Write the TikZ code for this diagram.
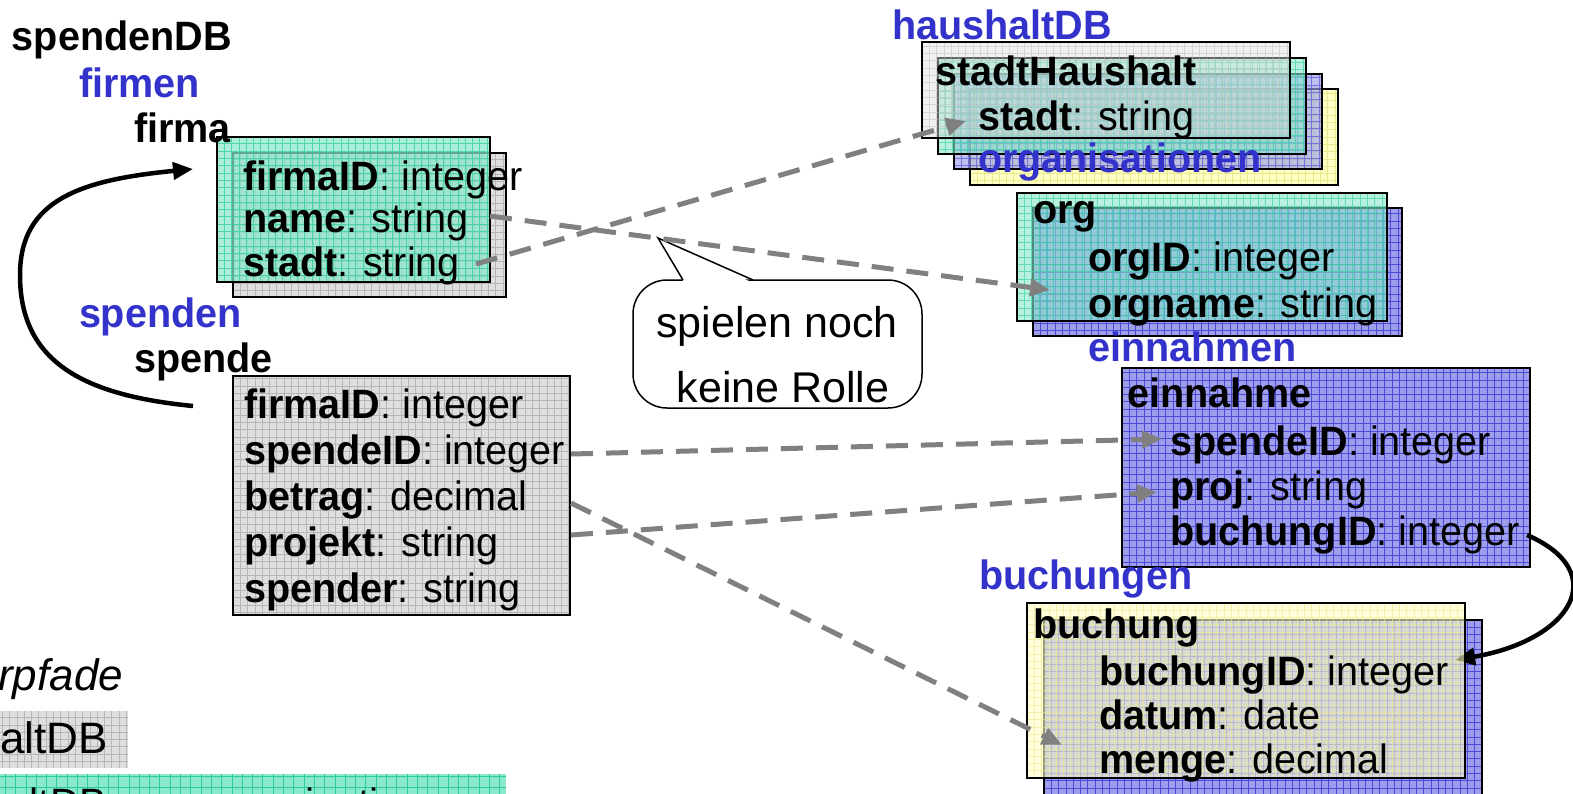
\documentclass[tikz,border=0pt]{standalone}
\usepackage{fontspec}
\setmainfont{Liberation Sans}[FakeStretch=0.965]
\newfontfamily\callfont{Liberation Sans}
\usetikzlibrary{arrows.meta,fit}
\definecolor{gfill}{RGB}{138,232,204}
\definecolor{ggrid}{RGB}{40,205,155}
\definecolor{sfill}{RGB}{222,222,222}
\definecolor{sgrid}{RGB}{182,182,182}
\definecolor{bfill}{RGB}{158,158,236}
\definecolor{bgrid}{RGB}{75,75,215}
\definecolor{yfill}{RGB}{255,255,196}
\definecolor{ygrid}{RGB}{232,232,140}
\definecolor{hdblue}{RGB}{51,51,204}
\definecolor{dgrey}{RGB}{128,128,128}
\newcommand\fieldtxt[2]{\textbf{#1}: #2}
\tikzset{
  tblbox/.style n args={3}{fill=#1fill, fill opacity=#2, draw=black, draw opacity=1,
    line width=1.5pt, inner sep=0pt, outer sep=0pt,
    path picture={\draw[#1grid, line width=0.7pt, draw opacity=#2]
      (path picture bounding box.south west) grid[step=#3]
      (path picture bounding box.north east);}},
  lgbox/.style n args={2}{fill=#1fill, draw=none, inner sep=0pt, outer sep=0pt,
    path picture={\draw[#1grid, line width=0.7pt]
      (path picture bounding box.south west) grid[step=#2]
      (path picture bounding box.north east);}},
  hd/.style={font=\fontsize{41}{46}\selectfont\bfseries, anchor=base west, inner sep=0pt, outer sep=0pt},
  hdb/.style={hd, text=hdblue},
  fl/.style={font=\fontsize{41}{46}\selectfont, anchor=base west, inner sep=0pt, outer sep=0pt},
  lgtxt/.style={font=\callfont\fontsize{44}{50}\selectfont, inner sep=0pt, outer sep=0pt},
  calltxt/.style={font=\callfont\fontsize{43}{50}\selectfont, anchor=base, inner sep=0pt},
  dsh/.style={draw=dgrey, line width=5pt, dash pattern=on 22pt off 13pt,
    -{Triangle[length=20pt,width=17pt,fill=dgrey]}},
  blk/.style={draw=black, line width=4.5pt, -{Triangle[length=20pt,width=17pt]}},
}
\begin{document}
\begin{tikzpicture}[x=1pt,y=-1pt]
\useasboundingbox (0,0) rectangle (1573,793);
\clip (0,0) rectangle (1573,793);
\fill[white] (0,0) rectangle (1573,793);

% legend (cut off at the picture's edges)
\node[lgbox={s}{7.3pt}, fit={(-5,711) (128,768)}] (lgGrey) {};
\node[lgbox={g}{10.3pt}, fit={(-5,774) (506,800)}] (lgGreen) {};
\node[lgtxt, font=\callfont\fontsize{44}{50}\selectfont\itshape, anchor=base east] (lgTitle) at (123,690) {rpfade};
\node[lgtxt, anchor=base east] (lgA) at (108,753) {altDB};
\node[lgtxt, font=\callfont\fontsize{41}{46}\selectfont, anchor=base east] (lgB) at (107,817) {altDB};
\node[lgtxt, font=\callfont\fontsize{41}{46}\selectfont, anchor=base west] (lgC) at (201,817) {organisationen};

% firma boxes
\node[tblbox={s}{1}{7.3pt}, fit={(233,153) (506,297)}] (firmaBack) {};
\node[tblbox={g}{0.72}{7.3pt}, fit={(217,137) (490,282)}] (firmaBox) {};
% spende box
\node[tblbox={s}{1}{7.3pt}, fit={(233,376) (570,615)}] (spendeBox) {};

% haushalt stack
\node[tblbox={y}{1}{7.3pt}, fit={(970,89) (1338,185)}] (hhY) {};
\node[tblbox={b}{0.65}{7.3pt}, fit={(954,74) (1322,169)}] (hhB) {};
\node[tblbox={g}{0.6}{7.3pt}, fit={(938,58) (1306,154)}] (hhG) {};
\node[tblbox={s}{0.45}{7.3pt}, fit={(922,42) (1290,138)}] (hhS) {};

% org boxes
\node[tblbox={b}{1}{7.3pt}, fit={(1033,208) (1402,336)}] (orgBack) {};
\node[tblbox={g}{0.6}{7.3pt}, fit={(1017,193) (1387,321)}] (orgBox) {};

% einnahme box
\node[tblbox={b}{1}{7.3pt}, fit={(1122,368) (1530,567)}] (einBox) {};

% buchung back box
\node[tblbox={b}{1}{7.3pt}, fit={(1044,620) (1482,810)}] (buchBack) {};

% right black connector (under the yellow buchung box)
\coordinate (buchIdOut) at (1527,535);
\coordinate (buchIdIn) at (1455,660);
\draw[blk] (buchIdOut) .. controls (1612,572) and (1572,640) .. (buchIdIn);

% buchung front box
\node[tblbox={y}{0.6}{7.3pt}, fit={(1027,603) (1465,778)}] (buchBox) {};

% callout
\node[draw=black, line width=1.5pt, fill=white, rounded corners=34pt,
      minimum width=289pt, minimum height=128pt, inner sep=0pt] (callout) at (777.5,344) {};
\coordinate (calloutTip) at (658,238);
\fill[white] (684,282.5) -- (calloutTip) -- (752,282.5) -- cycle;
\draw[line width=1.5pt, line join=miter] (683,280) -- (calloutTip) -- (753,280);
\node[calltxt] (call1) at (777,337) {spielen noch};
\node[calltxt] (call2) at (783,402) {keine Rolle};

% left texts
\node[hd] (spendenDB) at (12,50) {spendenDB};
\node[hdb] (firmen) at (79,97) {firmen};
\node[hd] (firma) at (134,142) {firma};
\node[fl] (fFirmaID) at (243,190) {\fieldtxt{firmaID}{integer}};
\node[fl] (fName) at (243,232) {\fieldtxt{name}{string}};
\node[fl] (fStadt) at (243,276) {\fieldtxt{stadt}{string}};
\node[hdb] (spenden) at (79,327) {spenden};
\node[hd] (spende) at (134,372) {spende};
\node[fl] (sFirmaID) at (244,418) {\fieldtxt{firmaID}{integer}};
\node[fl] (sSpendeID) at (244,464) {\fieldtxt{spendeID}{integer}};
\node[fl] (sBetrag) at (244,510) {\fieldtxt{betrag}{decimal}};
\node[fl] (sProjekt) at (244,556) {\fieldtxt{projekt}{string}};
\node[fl] (sSpender) at (244,602) {\fieldtxt{spender}{string}};

% right texts
\node[hdb] (haushaltDB) at (892,39) {haushaltDB};
\node[hd] (stadtHaushalt) at (935,85) {stadtHaushalt};
\node[fl] (hStadt) at (978,130) {\fieldtxt{stadt}{string}};
\node[hdb] (organisationen) at (978,172) {organisationen};
\node[hd] (org) at (1033,223) {org};
\node[fl] (oOrgID) at (1088,271) {\fieldtxt{orgID}{integer}};
\node[fl] (oOrgname) at (1088,317) {\fieldtxt{orgname}{string}};
\node[hdb] (einnahmen) at (1088,361) {einnahmen};
\node[hd] (einnahme) at (1127,407) {einnahme};
\node[fl] (eSpendeID) at (1170,455) {\fieldtxt{spendeID}{integer}};
\node[fl] (eProj) at (1170,500) {\fieldtxt{proj}{string}};
\node[fl] (eBuchungID) at (1170,545) {\fieldtxt{buchungID}{integer}};
\node[hdb] (buchungen) at (979,589) {buchungen};
\node[hd] (buchung) at (1033,638) {buchung};
\node[fl] (bBuchungID) at (1099,685) {\fieldtxt{buchungID}{integer}};
\node[fl] (bDatum) at (1099,729) {\fieldtxt{datum}{date}};
\node[fl] (bMenge) at (1099,773) {\fieldtxt{menge}{decimal}};

% dashed connectors
\coordinate (nameOut) at (490,216);
\coordinate (orgnameIn) at (1050,290);
\coordinate (stadtOut) at (476,264);
\coordinate (stadtIn) at (966,121);
\coordinate (spendeIDOut) at (571,454);
\coordinate (spendeIDIn) at (1162,439);
\coordinate (betragOut) at (571,503);
\coordinate (mengeIn) at (1062,745);
\coordinate (projektOut) at (571,535);
\coordinate (projIn) at (1157,492);
\draw[dsh] (nameOut) -- (orgnameIn);
\draw[dsh] (stadtOut) -- (stadtIn);
\draw[dsh] (spendeIDOut) -- (spendeIDIn);
\draw[dsh] (betragOut) -- (mengeIn);
\draw[dsh] (projektOut) -- (projIn);

% left black connector
\coordinate (spendeCurve) at (193,406);
\coordinate (firmaIn) at (193,169);
\draw[blk] (spendeCurve) .. controls (80,395) and (20,360) .. (20,275)
  .. controls (20,200) and (80,180) .. (firmaIn);
\end{tikzpicture}
\end{document}
